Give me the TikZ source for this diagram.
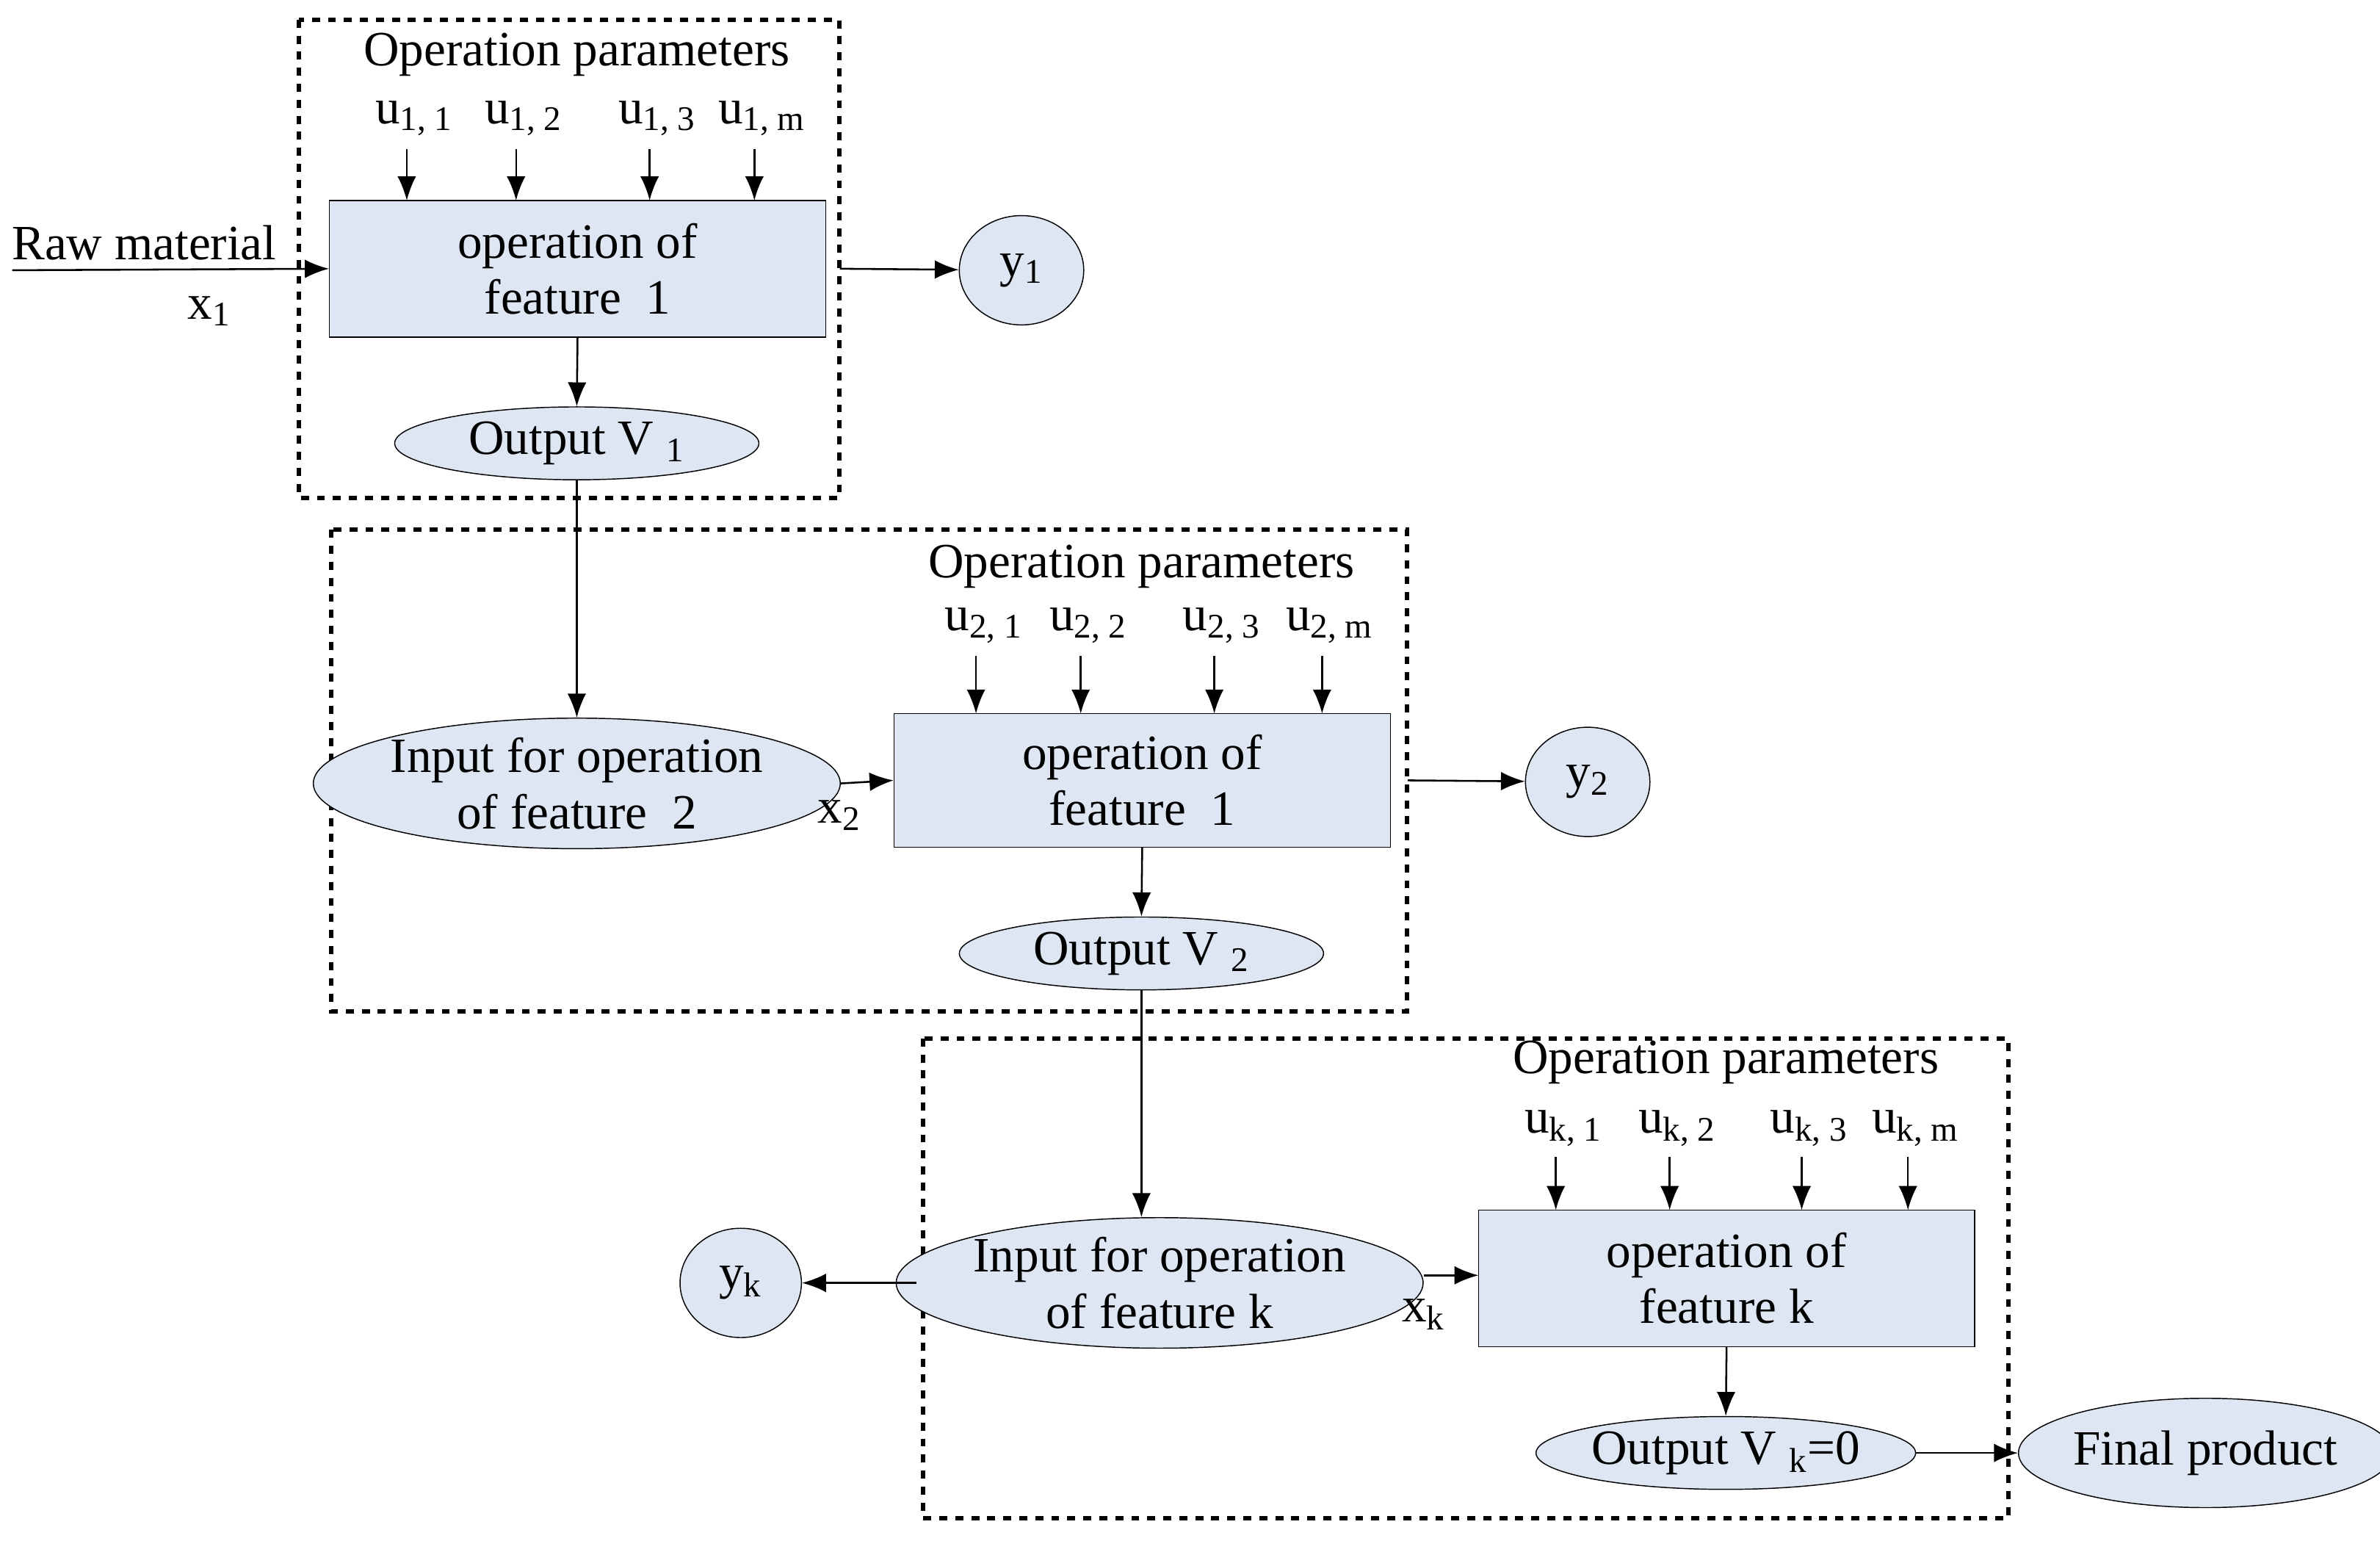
\documentclass[tikz,border=0pt]{standalone}
\usepackage{fontspec}
\setmainfont{Liberation Serif}
\usetikzlibrary{shapes.geometric,arrows.meta}
\begin{document}
\begin{tikzpicture}[x=0.02cm,y=-0.02cm,
  every node/.style={font=\fontsize{18.5}{21}\selectfont},
  box/.style={draw,dashed,line width=1.6pt},
  rect/.style={draw,fill=blue!4!cyan!3!gray!15,fill=rectc,minimum width=6.54cm,minimum height=1.8cm,align=center,inner sep=0pt},
  ell/.style={draw,ellipse,fill=rectc,inner sep=0pt,align=center},
  arr/.style={-{Latex[length=9pt,width=7pt]},line width=0.7pt},
  ln/.style={line width=0.7pt}]
\definecolor{rectc}{HTML}{DDE6F2}
\useasboundingbox (0,0) rectangle (1568,1015);
% box 1
\draw[box] (197,13) rectangle (553,328);
\node at (380,36) {Operation parameters};
\foreach \x/\t/\l in {268/11/{1, 1},340/12/{1, 2},428/13/{1, 3},497/1m/{1, m}}{
  \node (u\t) at (\x+5,78) {u\textsubscript{\l}};
  \coordinate (c\t) at (\x,98);
}
\node[rect] (r1) at (380.5,177) {operation of\\feature\ \ 1};
\foreach \t/\x in {11/268,12/340,13/428,1m/497}{\draw[arr] (c\t) -- (\x,132);}
\node (raw) at (95,160) {Raw material};
\node at (138,205) {x\textsubscript{1}};
\coordinate (rs) at (8,178);
\draw[arr] (rs) -- (r1.west);
\node[ell,minimum width=1.64cm,minimum height=1.44cm] (y1) at (673,178) {y\textsubscript{1}};
\draw[arr] (r1.east) ++(9,0) coordinate (r1e) (r1e) -- (y1);
\node[ell,minimum width=4.8cm,minimum height=0.96cm] (v1) at (380,292) {Output V \textsubscript{1}};
\draw[arr] (r1.south) -- (v1.north);
% box 2
\draw[box] (218,349) rectangle (927,666);
\node at (752,373) {Operation parameters};
\foreach \x/\t/\l in {643/21/{2, 1},712/22/{2, 2},800/23/{2, 3},871/2m/{2, m}}{
  \node at (\x+5,412) {u\textsubscript{\l}};
  \coordinate (c\t) at (\x,432);
}
\node[rect,minimum height=1.76cm] (r2) at (752.5,514) {operation of\\feature\ \ 1};
\foreach \t/\x in {21/643,22/712,23/800,2m/871}{\draw[arr] (c\t) -- (\x,470);}
\node[ell,minimum width=6cm,minimum height=1.72cm] (i2) at (380,516) {Input for operation\\of feature\ \ 2};
\draw[ln,-{Latex[length=9pt,width=7pt]}] (v1.south) -- (i2.north);
\draw[arr] (i2.east) -- (r2.west);
\node at (553,537) {x\textsubscript{2}};
\node[ell,minimum width=1.64cm,minimum height=1.44cm] (y2) at (1046,515) {y\textsubscript{2}};
\draw[arr] (r2.east) ++(11,0) coordinate (r2e) (r2e) -- (y2);
\node[ell,minimum width=4.8cm,minimum height=0.96cm] (v2) at (752,628) {Output V \textsubscript{2}};
\draw[arr] (r2.south) -- (v2.north);
% box 3
\draw[box] (608,684) rectangle (1323,1000);
\node at (1137,700) {Operation parameters};
\foreach \x/\t/\l in {1025/k1/{k, 1},1100/k2/{k, 2},1187/k3/{k, 3},1257/km/{k, m}}{
  \node at (\x+5,743) {u\textsubscript{\l}};
  \coordinate (c\t) at (\x,762);
}
\node[rect] (r3) at (1137.5,842) {operation of\\feature k};
\foreach \t/\x in {k1/1025,k2/1100,k3/1187,km/1257}{\draw[arr] (c\t) -- (\x,797);}
\node[ell,minimum width=6cm,minimum height=1.72cm] (ik) at (764,845) {Input for operation\\of feature k};
\draw[arr] (v2.south) -- (ik.north -| v2.south);
\draw[arr] (ik.east |- r3.west) ++(0,-2) coordinate (ike) (ike) -- (974,840);
\node at (938,866) {x\textsubscript{k}};
\node[ell,minimum width=1.6cm,minimum height=1.44cm] (yk) at (488,845) {y\textsubscript{k}};
\coordinate (ykl) at (604,845);
\draw[arr] (ykl) -- (yk);
\node[ell,minimum width=4.72cm,minimum height=0.96cm] (vk) at (1137,957) {Output V \textsubscript{k}=0};
\draw[arr] (r3.south) -- (vk.north);
\node[ell,minimum width=4.24cm,minimum height=1.44cm] (fp) at (1453,957) {Final product};
\draw[arr] (vk) -- (fp);
\end{tikzpicture}
\end{document}
